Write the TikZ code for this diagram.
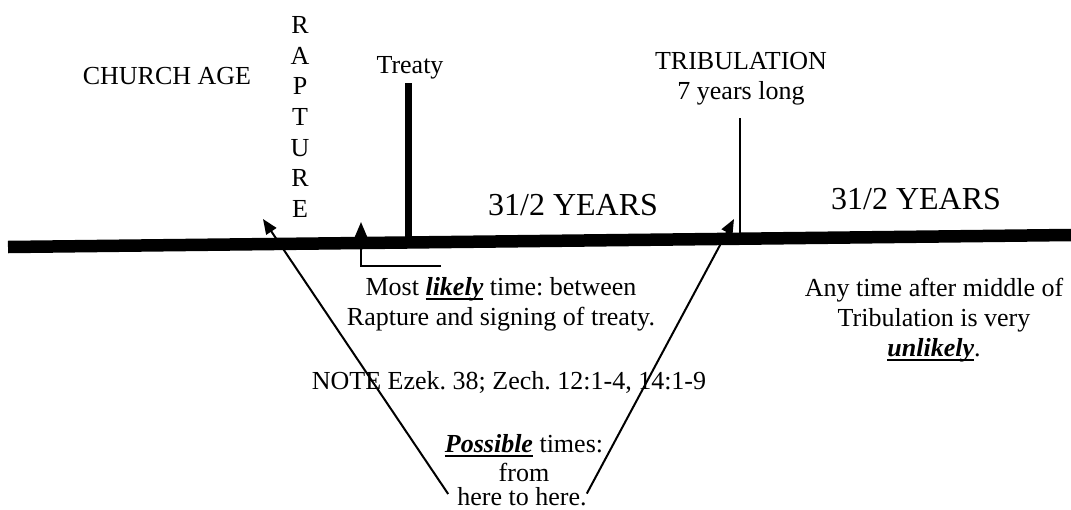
\documentclass[tikz,border=0pt]{standalone}
\usepackage{fontspec}
\setmainfont{Liberation Serif}
\usepackage{tikz}
\usetikzlibrary{arrows.meta}

\newcommand{\thickul}[1]{\setbox0\hbox{\textbf{\textit{#1}}}\rlap{\rule[-4.5pt]{\wd0}{2pt}}\box0\relax}

\tikzset{
  txt/.style={inner sep=0pt, align=center, font=\fontsize{26}{30}\selectfont\frenchspacing},
  big/.style={inner sep=0pt, font=\fontsize{32}{36}\selectfont},
  ptr/.style={line width=2pt, -{Triangle[length=15pt,width=12pt]}}
}

\begin{document}
\begin{tikzpicture}[x=1pt,y=-1pt]
 \useasboundingbox (0,0) rectangle (1071,509);
 % time line
 \coordinate (L) at (8,247);
 \coordinate (R) at (1071,235);
 \draw [line width=12.5pt] (L) -- (R);
 % labels above
 \node (church) at (167,76) [txt] {CHURCH AGE};
 \node (rapture) at (300,117) [txt, font=\fontsize{26}{30.7}\selectfont] {R\\A\\P\\T\\U\\R\\E};
 \node (treaty) at (410,68) [txt] {Treaty};
 \node (trib) at (741,79) [txt] {TRIBULATION\\7 years long};
 \node (half1) at (573,205) [big] {31/2 YEARS};
 \node (half2) at (916,199) [big] {31/2 YEARS};
 \coordinate (tb) at (408,83);
 \coordinate (tl) at (740,118);
 \draw [line width=7pt] (tb) -- (408,240);
 \draw [line width=1.5pt] (tl) -- (740,237);
 % notes below
 \node (likely) at (501,304) [txt] {Most \thickul{likely} time: between\\Rapture and signing of treaty.};
 \node (unlikely) at (934,320) [txt] {Any time after middle of\\Tribulation is very\\\thickul{unlikely}.};
 \node (note) at (509,382) [txt] {NOTE Ezek. 38; Zech. 12:1-4, 14:1-9};
 \node (poss) at (524,458) [txt, font=\fontsize{26}{29}\selectfont] {\thickul{Possible} times:\\from};
 \node (here) at (522,497) [txt] {here to here.};
 % arrows
 \coordinate (p1) at (263,219);
 \coordinate (p2) at (734,219);
 \coordinate (p3) at (361,222);
 \coordinate (bend) at (441,266);
 \draw [ptr] ([xshift=-9pt,yshift=3pt]here.west) -- (p1);
 \draw [ptr] ([yshift=-6pt]here.north east) -- (p2);
 \draw [ptr] (bend) -| (p3);
\end{tikzpicture}
\end{document}
